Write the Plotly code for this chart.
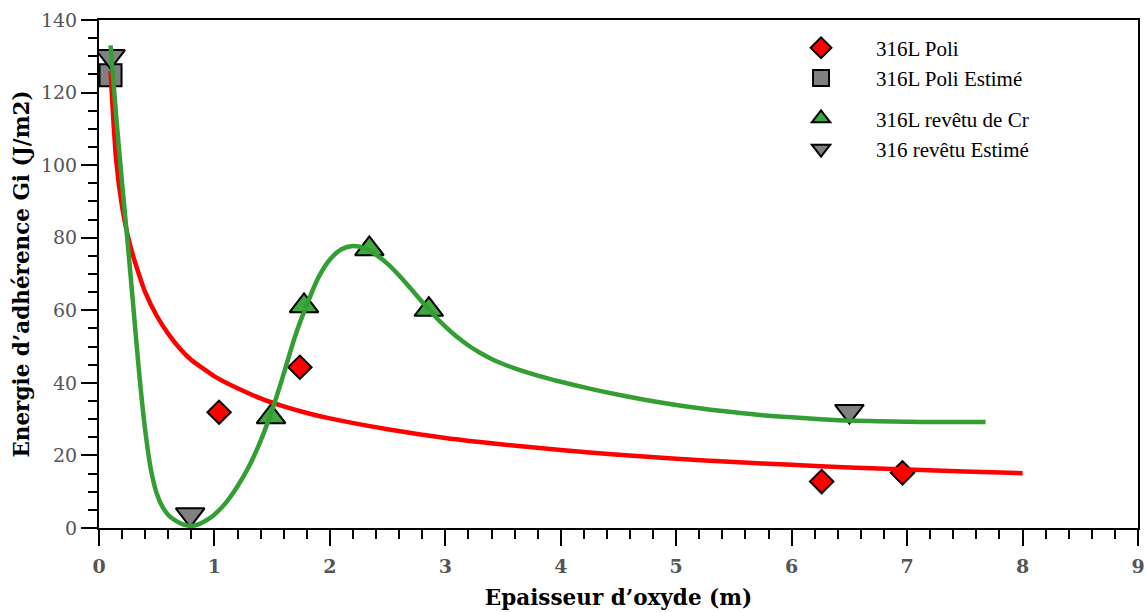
import plotly.graph_objects as go

# Measured points
poli_x = [1.04, 1.74, 6.26, 6.96]
poli_y = [31.9, 44.3, 12.8, 15.2]

poli_est_x = [0.1]
poli_est_y = [124.8]

cr_x = [1.49, 1.776, 2.342, 2.857]
cr_y = [30.6, 61.2, 76.9, 60.2]

rev_est_x = [0.1, 0.79, 6.5]
rev_est_y = [130.0, 3.7, 32.2]

# Fitted curves
red_x = [0.10, 0.15, 0.20, 0.25, 0.30, 0.35, 0.40, 0.50, 0.60, 0.70, 0.80, 0.90,
         1.00, 1.20, 1.40, 1.60, 1.80, 2.00, 2.50, 3.00, 3.50, 4.00, 4.50, 5.00,
         5.50, 6.00, 6.50, 7.00, 7.50, 8.00]
red_y = [126, 101, 88.5, 80.5, 74.5, 69.5, 65, 58.5, 53.5, 49.5, 46.3, 44,
         41.8, 38.5, 35.7, 33.5, 31.7, 30.2, 27.2, 24.8, 23, 21.5, 20.2, 19.1,
         18.2, 17.4, 16.7, 16.1, 15.6, 15.1]

green_x = [0.10, 0.15, 0.20, 0.25, 0.30, 0.35, 0.40, 0.45, 0.50, 0.55, 0.60, 0.65,
           0.70, 0.75, 0.80, 0.85, 0.90, 0.95, 1.00, 1.10, 1.20, 1.30, 1.40, 1.50,
           1.60, 1.70, 1.80, 1.90, 2.00, 2.10, 2.20, 2.30, 2.40, 2.50, 2.60, 2.70,
           2.80, 2.90, 3.00, 3.10, 3.20, 3.30, 3.40, 3.50, 3.60, 3.80, 4.00, 4.25,
           4.50, 4.75, 5.00, 5.25, 5.50, 5.75, 6.00, 6.25, 6.50, 6.75, 7.00, 7.25,
           7.50, 7.68]
green_y = [133, 113, 95, 78, 60, 42, 27, 16, 9.5, 5.8, 3.6, 2.3,
           1.4, 0.8, 0.6, 0.9, 1.6, 2.5, 3.7, 7.0, 11.5, 17.0, 24.0, 32.5,
           42.5, 53, 61.5, 69, 74, 76.8, 77.7, 77.1, 75.3, 72.8, 69.6, 66,
           62.3, 58.7, 55.5, 52.7, 50.3, 48.3, 46.6, 45.2, 44.0, 42.0, 40.3, 38.4,
           36.7, 35.2, 33.9, 32.8, 31.9, 31.1, 30.5, 30.0, 29.6, 29.4, 29.3, 29.2,
           29.2, 29.2]

SERIF = "DejaVu Serif"
LEG_FONT = "Liberation Serif"
RED = "#ff0000"
GRAY = "#808080"
GREEN_M = "#3fa83f"
GREEN_L = "#339e33"

fig = go.Figure()

fig.add_trace(go.Scatter(x=poli_x, y=poli_y, mode="markers", name="316L Poli",
                         legendgroup="poli",
                         marker=dict(symbol="diamond", size=18, color=RED,
                                     line=dict(color="black", width=2))))
fig.add_trace(go.Scatter(x=poli_est_x, y=poli_est_y, mode="markers", name="316L Poli Estimé",
                         legendgroup="poli",
                         marker=dict(symbol="square", size=22, color=GRAY,
                                     line=dict(color="black", width=2))))
fig.add_trace(go.Scatter(x=cr_x, y=cr_y, mode="markers", name="316L revêtu de Cr",
                         legendgroup="rev",
                         marker=dict(symbol="triangle-up", size=25, color=GREEN_M,
                                     line=dict(color="black", width=2))))
fig.add_trace(go.Scatter(x=rev_est_x, y=rev_est_y, mode="markers", name="316 revêtu Estimé",
                         legendgroup="rev",
                         marker=dict(symbol="triangle-down", size=25, color=GRAY,
                                     line=dict(color="black", width=2))))

fig.add_trace(go.Scatter(x=red_x, y=red_y, mode="lines", showlegend=False,
                         line=dict(color=RED, width=4.5, shape="spline", smoothing=0.8)))
fig.add_trace(go.Scatter(x=green_x, y=green_y, mode="lines", showlegend=False,
                         line=dict(color=GREEN_L, width=4.5, shape="spline", smoothing=0.8)))

fig.update_layout(
    width=1146, height=612,
    margin=dict(l=99, r=8, t=20, b=84),
    paper_bgcolor="white", plot_bgcolor="white",
    font=dict(family=SERIF, color="black", size=19),
    legend=dict(x=0.642, y=0.985, xanchor="left", yanchor="top",
                bgcolor="rgba(0,0,0,0)", font=dict(family=LEG_FONT, size=21, color="black"),
                itemwidth=100, tracegroupgap=10, traceorder="grouped"),
    showlegend=True,
)

fig.update_xaxes(
    range=[0, 9], dtick=1, tick0=0, automargin=False,
    showgrid=False, zeroline=False,
    showline=True, linecolor="black", linewidth=2, mirror=True,
    ticks="outside", ticklen=16, tickwidth=2, tickcolor="black",
    ticklabelstandoff=4, ticklabeloverflow="allow",
    tickfont=dict(family=SERIF, size=19, color="#555555", weight="bold"),
    minor=dict(dtick=0.2, ticks="outside", ticklen=9, tickwidth=2, tickcolor="black"),
    title=dict(text="Epaisseur d’oxyde (m)", standoff=14,
               font=dict(family=SERIF, size=21.5, color="black", weight="bold")),
)
fig.update_yaxes(
    range=[0, 140], dtick=20, tick0=0, automargin=False,
    showgrid=False, zeroline=False,
    showline=True, linecolor="black", linewidth=2, mirror=True,
    ticks="outside", ticklen=16, tickwidth=2, tickcolor="black",
    tickfont=dict(family=SERIF, size=19, color="#555555"),
    minor=dict(dtick=5, ticks="outside", ticklen=9, tickwidth=2, tickcolor="black"),
    title=dict(text="Energie d’adhérence Gi (J/m2)", standoff=5,
               font=dict(family=SERIF, size=21.5, color="black", weight="bold")),
)

# remove the browser's default 8px body margin so the figure fills the window exactly
fig.write_html("out.html",
               config={"displayModeBar": False, "staticPlot": True},
               post_script="document.body.style.margin='0';document.body.style.overflow='hidden';")
